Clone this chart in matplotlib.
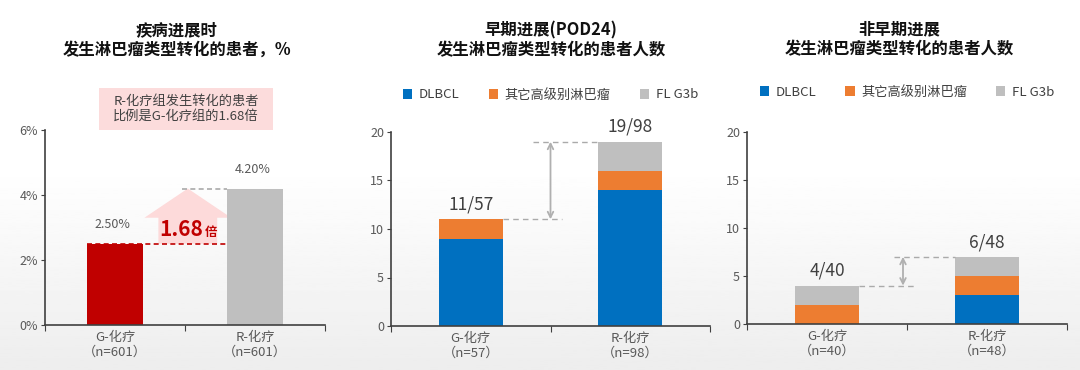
import numpy as np
import matplotlib
matplotlib.use("Agg")
import matplotlib.pyplot as plt
from matplotlib.patches import Polygon, Rectangle, Patch

plt.rcParams['font.family'] = ['Noto Sans CJK SC', 'DejaVu Sans']

# ---------------- data ----------------
groups = ["G-化疗", "R-化疗"]
left_n = ["（n=601）", "（n=601）"]
left_rates = [2.50, 4.20]
left_labels = ["2.50%", "4.20%"]
ratio_text = "1.68"

series = ["DLBCL", "其它高级别淋巴瘤", "FL G3b"]
mid_n = ["（n=57）", "（n=98）"]
mid_dlbcl = [9, 14]
mid_other = [2, 2]
mid_fl = [0, 3]
mid_labels = ["11/57", "19/98"]

right_n = ["（n=40）", "（n=48）"]
right_dlbcl = [0, 3]
right_other = [2, 2]
right_fl = [2, 2]
right_labels = ["4/40", "6/48"]

BLUE = "#0070C0"
ORANGE = "#ED7D31"
GRAY = "#BFBFBF"
RED = "#C00000"
TXT = "#404040"
SPINE = "#404040"

fig = plt.figure(figsize=(10.8, 3.7), dpi=100)

# background gradient
bg = fig.add_axes([0, 0, 1, 1], zorder=-10)
yy = np.linspace(0, 1, 200)
vals = np.where(yy < 0.45, 1.0, 1.0 - (yy - 0.45) / 0.55 * 0.07)
bg.imshow(vals[:, None], aspect='auto', cmap='gray', vmin=0, vmax=1, extent=[0, 1, 0, 1], origin='upper')
bg.set_axis_off()


def style_axes(ax, ymax, yticks, ylabels, nlabels):
    ax.set_facecolor('none')
    ax.set_xlim(-0.5, 1.5)
    ax.set_ylim(0, ymax)
    for s in ['top', 'right']:
        ax.spines[s].set_visible(False)
    for s in ['left', 'bottom']:
        ax.spines[s].set_color(SPINE)
        ax.spines[s].set_linewidth(1.2)
    ax.set_yticks(yticks)
    ax.set_yticklabels(ylabels, color="#595959", fontsize=9)
    ax.set_xticks([-0.5, 0.5, 1.5], minor=False)
    ax.set_xticklabels([])
    ax.set_xticks([0, 1], minor=True)
    ax.set_xticklabels([f"{g}\n{n}" for g, n in zip(groups, nlabels)], minor=True,
                       color="#595959", fontsize=9.5, linespacing=1.2)
    ax.tick_params(axis='x', which='minor', length=0, pad=4)
    ax.tick_params(axis='x', which='major', length=4, color=SPINE, direction='out')
    ax.tick_params(axis='y', length=3, color=SPINE, direction='out', pad=2)


# ---------------- left panel ----------------
axL = fig.add_axes([45/1080, (370-325)/370, 280/1080, 195/370])
x = np.arange(len(groups))
axL.bar(x, left_rates, width=0.4, color=[RED, GRAY], zorder=2)
style_axes(axL, 6, [0, 2, 4, 6], ["0%", "2%", "4%", "6%"], left_n)
for xi, v, lab in zip(x, left_rates, left_labels):
    axL.text(xi - 0.02, v + 0.4, lab, ha='center', va='bottom', fontsize=9, color="#595959")
# dashed lines
axL.plot([-0.2, 0.8], [left_rates[0]] * 2, ls='--', color=RED, lw=1.2, dashes=(3, 2), zorder=3)
axL.plot([0.48, 0.8], [left_rates[1]] * 2, ls='--', color="#AAAAAA", lw=1.2, dashes=(3, 2), zorder=3)
# big arrow
hb = left_rates[0] + 0.8
arrow = Polygon([(0.31, left_rates[0]), (0.31, hb), (0.21, hb), (0.52, left_rates[1]),
                 (0.83, hb), (0.73, hb), (0.73, left_rates[0])],
                closed=True, facecolor="#FDDADA", edgecolor='none', zorder=1)
axL.add_patch(arrow)
axL.text(0.63, 2.93, ratio_text, ha='right', va='center', fontsize=15, fontweight='bold', color=RED, zorder=4)
axL.text(0.64, 2.85, "倍", ha='left', va='center', fontsize=9, fontweight='bold', color=RED, zorder=4)
# pink note box
fig.patches.append(Rectangle((99/1080, (370-130)/370), 174/1080, 42/370, transform=fig.transFigure,
                             facecolor="#FCDCDC", edgecolor='none', zorder=0))
fig.text(186/1080, (370-109)/370, "R-化疗组发生转化的患者\n比例是G-化疗组的1.68倍", ha='center', va='center',
         fontsize=9.5, color=TXT, linespacing=1.2)

# ---------------- stacked panels ----------------
def stacked(ax, d, o, f, labels, nlabels):
    d = np.array(d); o = np.array(o); f = np.array(f)
    ax.bar(x, d, width=0.4, color=BLUE, zorder=2)
    ax.bar(x, o, width=0.4, bottom=d, color=ORANGE, zorder=2)
    ax.bar(x, f, width=0.4, bottom=d + o, color=GRAY, zorder=2)
    style_axes(ax, 20, [0, 5, 10, 15, 20], ["0", "5", "10", "15", "20"], nlabels)
    tot = d + o + f
    for xi, t, lab in zip(x, tot, labels):
        ax.text(xi, t + 0.6, lab, ha='center', va='bottom', fontsize=12.5, color=TXT)
    return tot


axM = fig.add_axes([391/1080, (370-326)/370, 319/1080, 194/370])
totM = stacked(axM, mid_dlbcl, mid_other, mid_fl, mid_labels, mid_n)
axM.plot([0.2, 0.575], [totM[0]] * 2, color="#AAAAAA", lw=1.0, dashes=(4, 3))
axM.plot([0.39, 0.8], [totM[1]] * 2, color="#AAAAAA", lw=1.0, dashes=(4, 3))
axM.annotate("", xy=(0.5, totM[1]), xytext=(0.5, totM[0]),
             arrowprops=dict(arrowstyle='<->', color="#B0B0B0", lw=1.3, shrinkA=0, shrinkB=0))

axR = fig.add_axes([747/1080, (370-324)/370, 320/1080, 192/370])
totR = stacked(axR, right_dlbcl, right_other, right_fl, right_labels, right_n)
axR.plot([0.2, 0.56], [totR[0]] * 2, color="#AAAAAA", lw=1.0, dashes=(4, 3))
axR.plot([0.42, 0.8], [totR[1]] * 2, color="#AAAAAA", lw=1.0, dashes=(4, 3))
axR.annotate("", xy=(0.475, totR[1]), xytext=(0.475, totR[0]),
             arrowprops=dict(arrowstyle='<->', color="#B0B0B0", lw=1.3, shrinkA=0, shrinkB=0))

# legends
handles = [Patch(facecolor=c, edgecolor='none') for c in (BLUE, ORANGE, GRAY)]
for ax, y in ((axM, 95), (axR, 92)):
    bb = ax.get_position()
    ax.legend(handles, series, loc='center', bbox_to_anchor=(0.5, 1 + ((370 - y) / 370 - bb.y1) / bb.height),
              ncol=3, frameon=False, fontsize=9.5, handlelength=0.7, handleheight=0.7,
              handletextpad=0.5, columnspacing=2.2, labelcolor=TXT)

# titles
fig.text(177/1080, (370-40)/370, "疾病进展时\n发生淋巴瘤类型转化的患者，%", ha='center', va='center',
         fontsize=11.8, fontweight='bold', color="#111111", linespacing=1.12)
fig.text(551/1080, (370-40)/370, "早期进展(POD24)\n发生淋巴瘤类型转化的患者人数", ha='center', va='center',
         fontsize=11.8, fontweight='bold', color="#111111", linespacing=1.12)
fig.text(899/1080, (370-39)/370, "非早期进展\n发生淋巴瘤类型转化的患者人数", ha='center', va='center',
         fontsize=11.8, fontweight='bold', color="#111111", linespacing=1.12)

fig.savefig("out.png", dpi=100)
